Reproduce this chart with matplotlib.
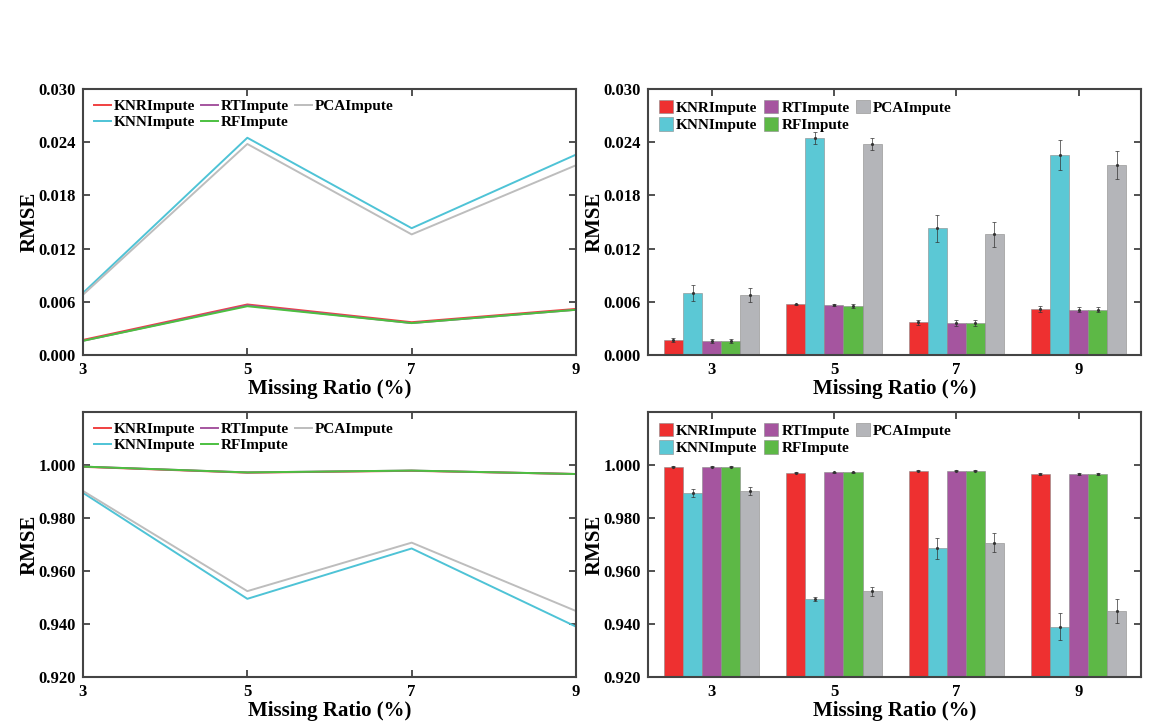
import numpy as np
import matplotlib.pyplot as plt

plt.rcParams['font.family'] = ['Liberation Serif', 'DejaVu Serif']
plt.rcParams['font.weight'] = 'bold'

ratios = [3, 5, 7, 9]
methods = ['KNRImpute', 'KNNImpute', 'RTImpute', 'RFImpute', 'PCAImpute']
colors = {'KNRImpute': '#ee3030', 'KNNImpute': '#5bc8d5', 'RTImpute': '#a5559f',
          'RFImpute': '#5db846', 'PCAImpute': '#b4b5b9'}
line_colors = {'KNRImpute': '#f04040', 'KNNImpute': '#4ec3d6', 'RTImpute': '#a5559f',
               'RFImpute': '#4cc040', 'PCAImpute': '#bdbdbd'}

# top row: RMSE
rmse_top = {
    'KNRImpute': [0.0017, 0.0057, 0.0037, 0.0052],
    'KNNImpute': [0.0070, 0.0245, 0.0143, 0.0226],
    'RTImpute':  [0.0016, 0.0056, 0.0036, 0.0051],
    'RFImpute':  [0.0016, 0.0055, 0.0036, 0.0051],
    'PCAImpute': [0.0068, 0.0238, 0.0136, 0.0214],
}
err_top = {
    'KNRImpute': [0.0002, 0.0001, 0.0003, 0.0003],
    'KNNImpute': [0.0009, 0.0007, 0.0015, 0.0017],
    'RTImpute':  [0.0002, 0.0001, 0.0003, 0.0003],
    'RFImpute':  [0.0002, 0.0002, 0.0003, 0.0003],
    'PCAImpute': [0.0008, 0.0007, 0.0014, 0.0016],
}

# bottom row
rmse_bot = {
    'KNRImpute': [0.9993, 0.9971, 0.9978, 0.9966],
    'KNNImpute': [0.9895, 0.9495, 0.9685, 0.9390],
    'RTImpute':  [0.9994, 0.9972, 0.9979, 0.9966],
    'RFImpute':  [0.9994, 0.9972, 0.9979, 0.9966],
    'PCAImpute': [0.9902, 0.9524, 0.9707, 0.9449],
}
err_bot = {
    'KNRImpute': [0.0002, 0.0002, 0.0002, 0.0002],
    'KNNImpute': [0.0015, 0.0007, 0.0040, 0.0052],
    'RTImpute':  [0.0002, 0.0002, 0.0002, 0.0002],
    'RFImpute':  [0.0002, 0.0002, 0.0002, 0.0002],
    'PCAImpute': [0.0014, 0.0017, 0.0035, 0.0045],
}

W, H = 1159, 725
fig = plt.figure(figsize=(W / 100, H / 100), dpi=100)

def add_ax(x0, y0, x1, y1):
    return fig.add_axes([x0 / W, 1 - y1 / H, (x1 - x0) / W, (y1 - y0) / H])

ax_tl = add_ax(83, 89, 576, 355)
ax_tr = add_ax(648, 89, 1141, 355)
ax_bl = add_ax(83, 412, 576, 677)
ax_br = add_ax(648, 412, 1141, 677)

def style(ax, yticks, ylim, fmt, bars=False):
    ax.set_ylim(*ylim)
    ax.set_yticks(yticks)
    ax.set_yticklabels([fmt.format(v) for v in yticks])
    ax.tick_params(direction='in', top=True, right=True, length=5, width=1.2,
                   labelsize=12, color='#333333', pad=5)
    for sp in ax.spines.values():
        sp.set_linewidth(1.5)
        sp.set_color('#444444')
    ax.set_ylabel('RMSE', fontsize=15, fontweight='bold')
    ax.yaxis.set_label_coords(-0.088, 0.5)
    ax.set_xlabel('Missing Ratio (%)', fontsize=15, fontweight='bold', labelpad=1)
    if bars:
        hl, hh = 0.95, 1.0
    else:
        hl, hh = 1.1, 0.7
    ax.legend(ncol=3, loc='upper left', frameon=False,
              handlelength=hl, handleheight=hh, handletextpad=0.2,
              columnspacing=0.4, labelspacing=0.15, borderaxespad=0.3,
              prop={'weight': 'bold', 'size': 11})

def line_panel(ax, data):
    for m in methods:
        ax.plot(ratios, data[m], color=line_colors[m], lw=1.4, label=m)
    ax.set_xlim(3, 9)
    ax.set_xticks(ratios)

def bar_panel(ax, data, errs):
    x = np.arange(len(ratios))
    bw = 0.156
    for i, m in enumerate(methods):
        pos = x + (i - 2) * bw
        ax.bar(pos, data[m], bw, color=colors[m], edgecolor='#8a8a8a',
               linewidth=0.4, label=m, zorder=2)
        ax.errorbar(pos, data[m], yerr=errs[m], fmt='.', color='#333333',
                    ms=2.5, elinewidth=0.5, capsize=1.5, capthick=0.5, zorder=3)
    ax.set_xlim(-0.52, len(ratios) - 0.49)
    ax.set_xticks(x)
    ax.set_xticklabels([str(r) for r in ratios])

top_ticks = [0.000, 0.006, 0.012, 0.018, 0.024, 0.030]
bot_ticks = [0.920, 0.940, 0.960, 0.980, 1.000]

line_panel(ax_tl, rmse_top)
style(ax_tl, top_ticks, (0, 0.030), '{:.3f}')
bar_panel(ax_tr, rmse_top, err_top)
style(ax_tr, top_ticks, (0, 0.030), '{:.3f}', bars=True)
line_panel(ax_bl, rmse_bot)
style(ax_bl, bot_ticks, (0.92, 1.02), '{:.3f}')
bar_panel(ax_br, rmse_bot, err_bot)
style(ax_br, bot_ticks, (0.92, 1.02), '{:.3f}', bars=True)

fig.savefig('out.png', dpi=100)
